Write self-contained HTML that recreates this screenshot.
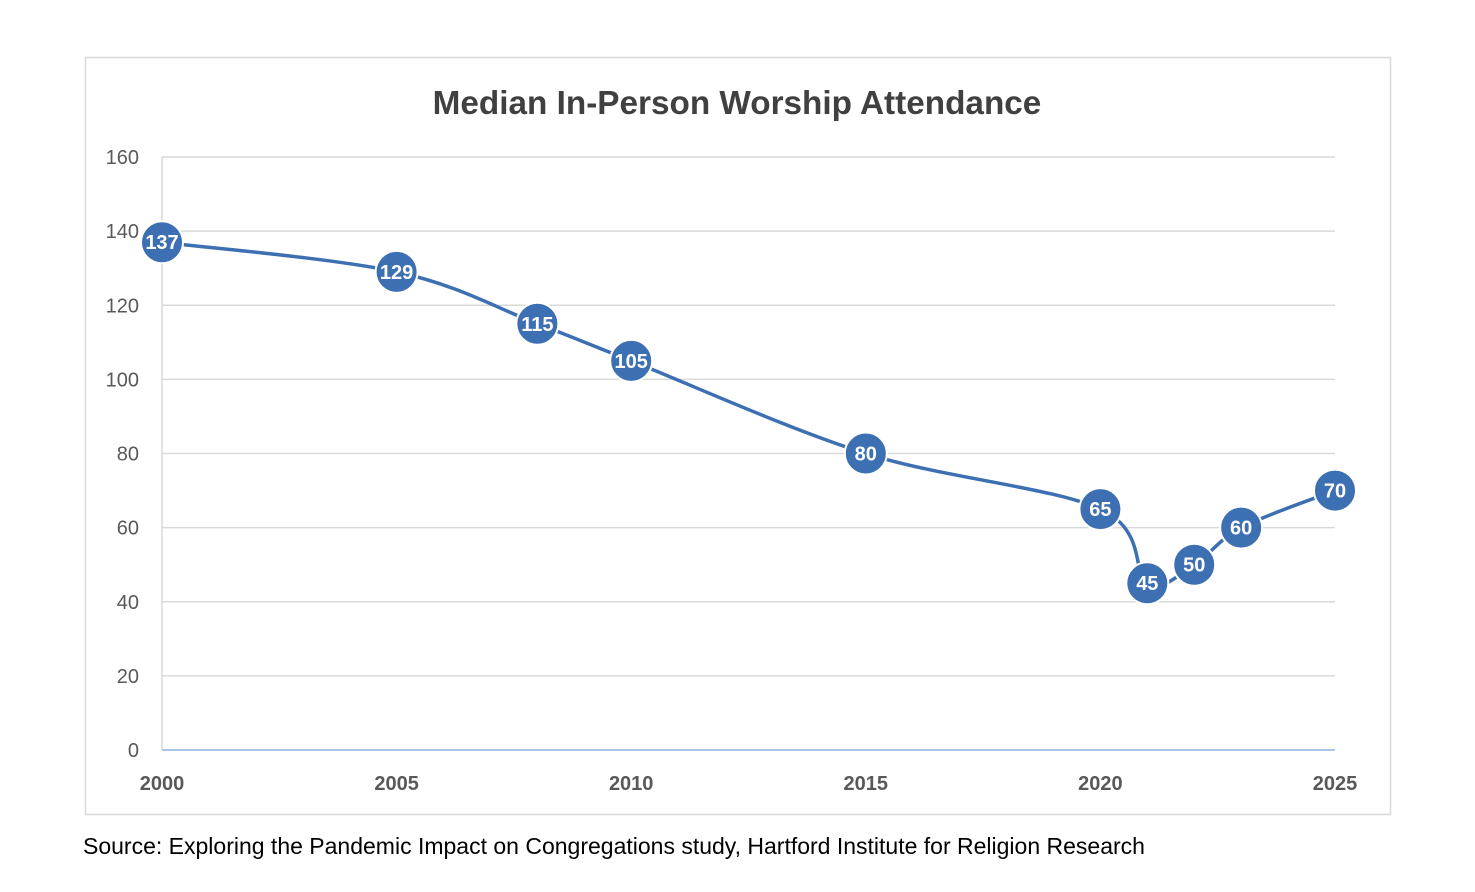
<!DOCTYPE html>
<html><head><meta charset="utf-8"><style>
body{margin:0;background:#fff;width:1475px;height:887px;overflow:hidden;font-family:"Liberation Sans",sans-serif}
</style></head><body>
<svg width="1475" height="887">
<rect x="85.5" y="57.5" width="1305" height="757" fill="#fff" stroke="#d9d9d9" stroke-width="1.5"/>
<text x="737" y="114" text-anchor="middle" font-size="33.3" font-weight="bold" fill="#404040">Median In-Person Worship Attendance</text>
<g id="grid"></g><g id="axes"></g><g id="series"></g>
<text x="83" y="854" font-size="23" fill="#000">Source: Exploring the Pandemic Impact on Congregations study, Hartford Institute for Religion Research</text>
</svg>
<script>
const years=[2000,2005,2008,2010,2015,2020,2021,2022,2023,2025];
const values=[137,129,115,105,80,65,45,50,60,70];
const yTicks=[0,20,40,60,80,100,120,140,160];
const xTicks=[2000,2005,2010,2015,2020,2025];
const NS='http://www.w3.org/2000/svg';
const X=y=>162+(y-2000)*(1335-162)/25;
const Y=v=>750-v*(750-157)/160;
function mk(tag,attrs,parent,text){const e=document.createElementNS(NS,tag);for(const k in attrs)e.setAttribute(k,attrs[k]);if(text!==undefined)e.textContent=text;document.getElementById(parent).appendChild(e);return e;}
yTicks.forEach(t=>{
 if(t>0){const g=mk('line',{x1:162,x2:1335,y1:Y(t),y2:Y(t),stroke:'#d9d9d9','stroke-width':1.5},'grid');
 
 }
 const l=mk('text',{x:139,y:Y(t)+7,'text-anchor':'end','font-size':20,fill:'#595959'},'axes',t);
 
 
});
const ya=mk('line',{x1:162,x2:162,y1:157,y2:750,stroke:'#d9d9d9','stroke-width':1.5},'axes');


const xa=mk('line',{x1:162,x2:1335,y1:750,y2:750,stroke:'#8eb4e3','stroke-width':1.5},'axes');


xTicks.forEach(t=>{
 const l=mk('text',{x:X(t),y:790,'text-anchor':'middle','font-size':20,'font-weight':'bold',fill:'#595959'},'axes',t);
 
 
});
const P=years.map((y,i)=>[X(y),Y(values[i])]);
let d='M'+P[0][0]+','+P[0][1];
for(let i=0;i<P.length-1;i++){
 const p0=P[i-1]||P[i],p1=P[i],p2=P[i+1],p3=P[i+2]||P[i+1],k=1/6;
 d+=` C${p1[0]+(p2[0]-p0[0])*k},${p1[1]+(p2[1]-p0[1])*k} ${p2[0]-(p3[0]-p1[0])*k},${p2[1]-(p3[1]-p1[1])*k} ${p2[0]},${p2[1]}`;
}
const line=mk('path',{d:d,fill:'none',stroke:'#3d6fb3','stroke-width':3.5},'series');


P.forEach((p,i)=>{
 const c=mk('circle',{cx:p[0],cy:p[1],r:21,fill:'#3d6fb3',stroke:'#fff','stroke-width':2},'series');
 
 
 const t=mk('text',{x:p[0],y:p[1]+7,'text-anchor':'middle','font-size':20,'font-weight':'bold',fill:'#fff'},'series',values[i]);
 
 
});
</script>
</body></html>
